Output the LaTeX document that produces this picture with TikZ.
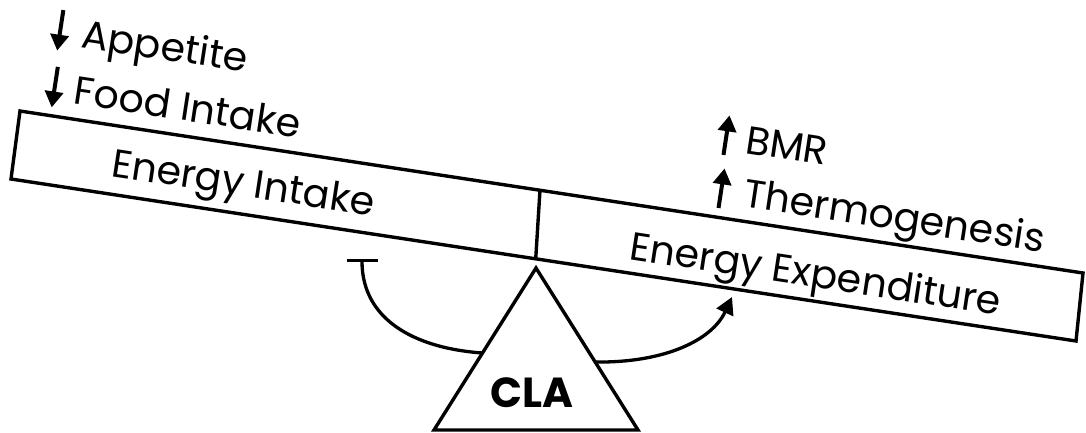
\documentclass[tikz,border=0pt]{standalone}
\usepackage{fontspec}
\setmainfont{Poppins}
\usetikzlibrary{arrows.meta}
\begin{document}
\begin{tikzpicture}[x=1pt,y=-1pt,line join=miter,
  outline/.style={line width=3.4pt},
  link/.style={line width=3.3pt},
  lbl/.style={inner sep=0pt,anchor=base west,rotate=-8.65,font=\fontsize{39.5}{46}\selectfont},
  dnind/.style={line width=4pt,-{Triangle[length=16pt,width=18pt]}},
  upind/.style={line width=4pt,-{Triangle[length=16pt,width=18pt]}}]
\useasboundingbox (0,0) rectangle (1086,432);
% beam
\coordinate (TL) at (20,111);
\coordinate (TR) at (1083,273);
\coordinate (BR) at (1076,341);
\coordinate (BL) at (11,179);
\draw[outline] (TL) -- (TR) -- (BR) -- (BL) -- cycle;
\coordinate (DT) at (540,190);
\coordinate (DB) at (535.7,259);
\draw[outline] (DT) -- (DB);
% fulcrum
\coordinate (apex) at (536,268);
\coordinate (fbl) at (434,430);
\coordinate (fbr) at (638,430);
\draw[outline] (apex) -- (fbr) -- (fbl) -- cycle;
\node[inner sep=0pt,anchor=base,font=\bfseries\fontsize{42}{48}\selectfont] (cla) at (532,407) {CLA};
% labels
\node[lbl] (ei) at (110,176) {Energy Intake};
\node[lbl] (ee) at (628,259) {Energy Expenditure};
\node[lbl] (app) at (80,47) {Appetite};
\node[lbl] (food) at (72.5,103.5) {Food Intake};
\node[lbl] (bmr) at (744,153) {BMR};
\node[lbl] (thermo) at (742,206.5) {Thermogenesis};
\begin{scope}[shift={(app.base west)},rotate=-8.65]
  \draw[dnind] (-22,-34) -- (-22,7);
\end{scope}
\begin{scope}[shift={(food.base west)},rotate=-8.65]
  \draw[dnind] (-20,-34) -- (-20,7);
\end{scope}
\begin{scope}[shift={(bmr.base west)},rotate=-8.65]
  \draw[upind] (-20,5) -- (-20,-35);
\end{scope}
\begin{scope}[shift={(thermo.base west)},rotate=-8.65]
  \draw[upind] (-23,5) -- (-23,-35);
\end{scope}
% effects of CLA
\coordinate (inh) at (362,259);
\coordinate (tleft) at (482.5,353);
\coordinate (tright) at (595,362);
\coordinate (eetip) at (732,297);
\draw[link,{Bar[width=31pt]}-] (inh) .. controls (362,318) and (412,348) .. (tleft);
\draw[link,-{Triangle[length=17pt,width=18pt]}] (tright) .. controls (665,363) and (712,340) .. (eetip);
\end{tikzpicture}
\end{document}
